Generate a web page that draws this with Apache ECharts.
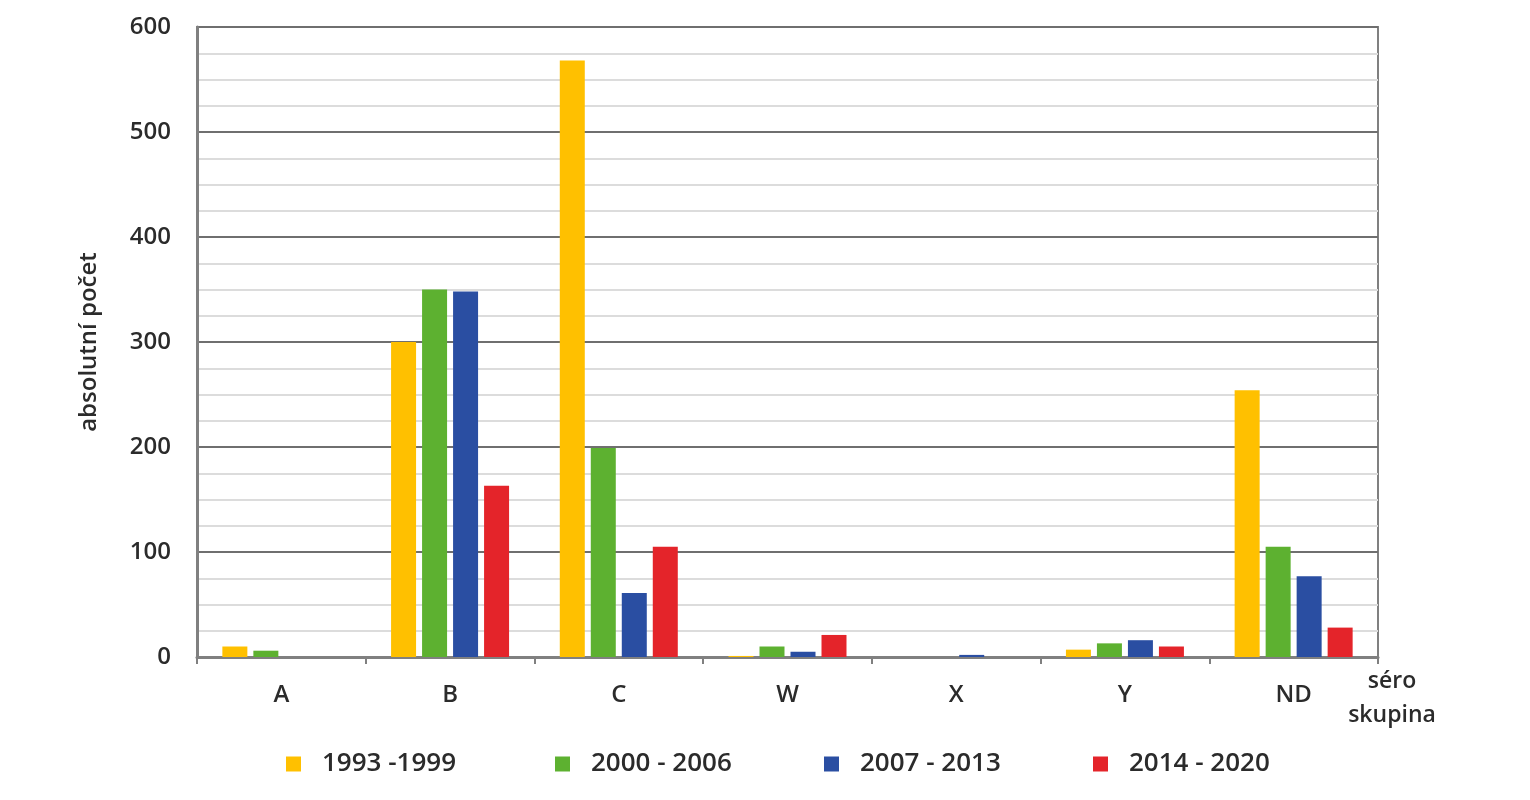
<!DOCTYPE html>
<html>
<head>
<meta charset="utf-8">
<script src="https://cdn.jsdelivr.net/npm/echarts@6/dist/echarts.min.js"></script>
<style>
  html, body { margin: 0; padding: 0; background: #fff; }
  #chart { width: 1530px; height: 800px; }
</style>
</head>
<body>
<div id="chart"></div>
<script>
// séro skupiny
var categories = ['A', 'B', 'C', 'W', 'X', 'Y', 'ND'];
var periods = ['1993 -1999', '2000 - 2006', '2007 - 2013', '2014 - 2020'];

// absolutní počty
var values1993 = [10, 300, 568, 1, 0, 7, 254];
var values2000 = [6, 350, 199, 10, 0, 13, 105];
var values2007 = [0, 348, 61, 5, 2, 16, 77];
var values2014 = [0, 163, 105, 21, 0, 10, 28];

var yTicks = [0, 600, 100];
var colors = ['#FFC000', '#5DB130', '#2A4EA2', '#E4242A'];

var chart = echarts.init(document.getElementById('chart'));
var font = '"Open Sans", "Noto Sans", sans-serif';
var textColor = '#2b2b2b';

function makeSeries(name, data, color) {
    return {
        name: name,
        type: 'bar',
        data: data,
        barWidth: 25,
        barGap: '24%',
        itemStyle: { color: color },
        emphasis: { disabled: true }
    };
}

// jedna legenda pro kazde obdobi, at sedi rozestupy
var legendLeft = [281, 550, 819, 1088];
var legends = periods.map(function (p, i) {
    return {
        data: [p],
        left: legendLeft[i],
        top: 746,
        itemWidth: 15,
        itemHeight: 15,
        icon: 'rect',
        selectedMode: false,
        textStyle: {
            fontFamily: font,
            fontSize: 26,
            fontWeight: 600,
            color: textColor,
            padding: [0, 0, 0, 16]
        }
    };
});

var option = {
    backgroundColor: '#ffffff',
    animation: false,
    textStyle: { fontFamily: font },
    grid: {
        left: 197,
        right: 152,
        top: 27,
        bottom: 143,
        show: true,
        borderColor: '#808080',
        borderWidth: 2
    },
    legend: legends,
    xAxis: {
        type: 'category',
        data: categories,
        name: 'séro\nskupina',
        nameLocation: 'end',
        nameGap: 14,
        nameTextStyle: {
            fontFamily: font,
            fontSize: 23,
            fontWeight: 600,
            color: textColor,
            align: 'center',
            verticalAlign: 'top',
            lineHeight: 34,
            padding: [7, 0, 0, 0]
        },
        axisLine: { lineStyle: { color: '#808080', width: 3 } },
        axisTick: { show: true, length: 7, lineStyle: { color: '#808080', width: 2 } },
        axisLabel: {
            margin: 26,
            fontFamily: font,
            fontSize: 24,
            fontWeight: 600,
            color: textColor
        },
        splitLine: { show: false }
    },
    yAxis: {
        type: 'value',
        min: yTicks[0],
        max: yTicks[1],
        interval: yTicks[2],
        name: 'absolutní počet',
        nameLocation: 'middle',
        nameGap: 96,
        nameTextStyle: {
            fontFamily: font,
            fontSize: 24,
            fontWeight: 600,
            color: textColor
        },
        axisLine: { show: true, lineStyle: { color: '#808080', width: 3 } },
        axisTick: { show: false },
        axisLabel: {
            margin: 26,
            fontFamily: font,
            fontSize: 24,
            fontWeight: 600,
            color: textColor
        },
        splitLine: { show: true, lineStyle: { color: '#6f6f6f', width: 2 } },
        minorTick: { show: false, splitNumber: 4 },
        minorSplitLine: { show: true, lineStyle: { color: '#dcdcdc', width: 2 } }
    },
    series: [
        makeSeries(periods[0], values1993, colors[0]),
        makeSeries(periods[1], values2000, colors[1]),
        makeSeries(periods[2], values2007, colors[2]),
        makeSeries(periods[3], values2014, colors[3])
    ]
};

chart.setOption(option);
</script>
</body>
</html>
